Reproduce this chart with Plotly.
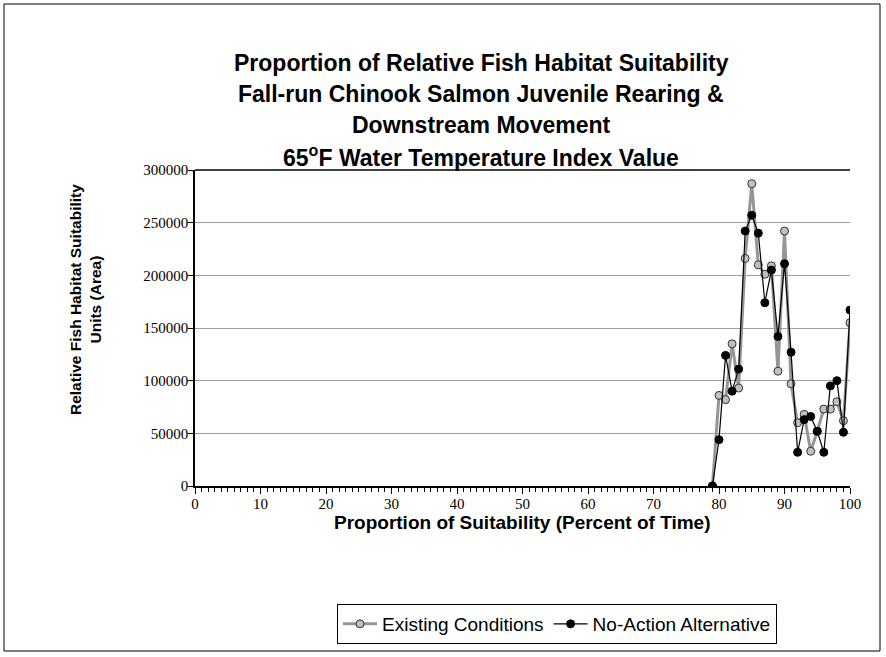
import plotly.graph_objects as go

# ---- data ----
pct_time = list(range(79, 101))
existing = [0, 86000, 82000, 135000, 93000, 216000, 287000, 210000, 201000, 209000, 109000,
            242000, 97000, 60000, 68000, 33000, 52000, 73000, 73000, 80000, 62000, 155000]
no_action = [0, 44000, 124000, 90000, 111000, 242000, 257000, 240000, 174000, 205000, 142000,
             211000, 127000, 32000, 63000, 66000, 52000, 32000, 95000, 100000, 51000, 167000]
x_ticks = list(range(0, 101, 10))
y_ticks = list(range(0, 300001, 50000))
title_lines = [
    "Proportion of Relative Fish Habitat Suitability",
    "Fall-run Chinook Salmon Juvenile Rearing &amp;",
    "Downstream Movement",
    "65<sup>o</sup>F Water Temperature Index Value",
]

W, H = 886, 657
L, R, T, B = 195, 850, 170, 486

fig = go.Figure()
fig.add_trace(go.Scatter(
    x=pct_time, y=existing, name="Existing Conditions", mode="lines+markers",
    line=dict(color="#969696", width=3),
    marker=dict(size=8, color="#c0c0c0", line=dict(color="#333333", width=1)),
))
fig.add_trace(go.Scatter(
    x=pct_time, y=no_action, name="No-Action Alternative", mode="lines+markers",
    line=dict(color="#000000", width=1.2),
    marker=dict(size=8, color="#000000", line=dict(color="#000000", width=1)),
))

pw = R - L
ph = B - T
def px_x(p):
    return (p - L) / pw
def px_y(p):
    return (B - p) / ph

annotations = []
for i, line in enumerate(title_lines):
    annotations.append(dict(
        text="<b>" + line + "</b>", xref="paper", yref="paper",
        x=px_x(481), y=px_y(63 + 31 * i), xanchor="center", yanchor="middle",
        showarrow=False, font=dict(family="Liberation Sans, Arial", size=23, color="black"),
    ))
annotations.append(dict(
    text="<b>Relative Fish Habitat Suitability<br>Units (Area)</b>", xref="paper", yref="paper",
    x=px_x(85), y=px_y(300), xanchor="center", yanchor="middle", textangle=-90,
    showarrow=False, font=dict(family="Liberation Sans, Arial", size=15.5, color="black"),
))
annotations.append(dict(
    text="<b>Proportion of Suitability (Percent of Time)</b>", xref="paper", yref="paper",
    x=px_x(522), y=px_y(522), xanchor="center", yanchor="middle",
    showarrow=False, font=dict(family="Liberation Sans, Arial", size=19, color="black"),
))

fig.update_layout(
    width=W, height=H,
    margin=dict(l=L, r=W - R, t=T, b=H - B, pad=0),
    paper_bgcolor="white", plot_bgcolor="white",
    showlegend=True,
    font=dict(family="Liberation Sans, Arial", color="black"),
    xaxis=dict(
        range=[0, 100], tickvals=x_ticks, ticktext=[str(v) for v in x_ticks],
        tickfont=dict(family="Liberation Serif, Times New Roman", size=15),
        ticks="outside", ticklen=6, tickcolor="black", tickwidth=1,
        ticklabelstandoff=-3,
        minor=dict(dtick=1, ticks="outside", ticklen=4, tickcolor="black", tickwidth=1),
        showline=True, linecolor="black", linewidth=1.5,
        showgrid=False, zeroline=False,
    ),
    yaxis=dict(
        range=[0, 300000], tickvals=y_ticks, ticktext=[str(v) for v in y_ticks],
        tickfont=dict(family="Liberation Serif, Times New Roman", size=15),
        ticks="outside", ticklen=5, tickcolor="black",
        ticklabelstandoff=-3,
        showline=True, linecolor="black", linewidth=1.5,
        showgrid=True, gridcolor="#a0a0a0", gridwidth=1, zeroline=False,
    ),
    legend=dict(
        orientation="h", x=px_x(557), xanchor="center", y=px_y(604), yanchor="top",
        bordercolor="black", borderwidth=1, bgcolor="white",
        font=dict(family="Liberation Sans, Arial", size=19),
        itemwidth=34, tracegroupgap=0,
    ),
    annotations=annotations,
    shapes=[
        dict(type="rect", xref="paper", yref="paper",
             x0=px_x(4), x1=px_x(880), y0=px_y(651), y1=px_y(4),
             line=dict(color="black", width=1)),
        dict(type="line", xref="paper", yref="paper",
             x0=0, x1=1, y0=1, y1=1, line=dict(color="black", width=1.5)),
    ],
)

fig.write_html("out.html", config={"displayModeBar": False},
               post_script="document.body.style.margin='0';")
